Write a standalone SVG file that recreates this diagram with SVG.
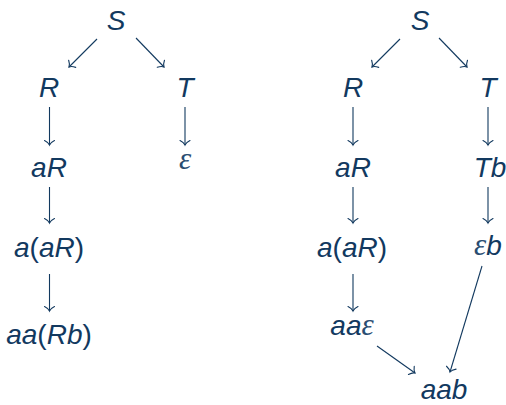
<svg xmlns="http://www.w3.org/2000/svg" width="506" height="405" viewBox="0 0 506 405">
<defs>
<marker id="to" viewBox="-6 -6 8 12" markerWidth="8" markerHeight="12" refX="0" refY="0" orient="auto" markerUnits="userSpaceOnUse">
<path d="M-4.5,-5 C-3,-2 -1.2,-0.5 0,0 C-1.2,0.5 -3,2 -4.5,5" fill="none" stroke="#12395f" stroke-width="1.1" stroke-linecap="round"/>
</marker>
<style>
.t{font-family:"Liberation Sans","Open Sans",sans-serif;font-style:italic;font-size:28px;fill:#12395f;text-anchor:middle}
.e{font-family:"Liberation Serif",serif;font-style:italic;font-size:31px;fill:#2a4d72}
.p{font-style:normal;font-weight:300}
.c line{stroke:#12395f;stroke-width:1.1;fill:none;marker-end:url(#to)}
</style>
</defs>
<rect width="506" height="405" fill="#ffffff"/>
<g class="c" id="connectors">
<line x1="97" y1="39" x2="69" y2="67"/>
<line x1="136" y1="38" x2="164" y2="67"/>
<line x1="49.5" y1="107" x2="49.5" y2="145"/>
<line x1="185" y1="107" x2="185" y2="145"/>
<line x1="49.5" y1="187" x2="49.5" y2="223"/>
<line x1="49.5" y1="274" x2="49.5" y2="311"/>
<line x1="400" y1="39" x2="372" y2="67"/>
<line x1="439" y1="38" x2="467" y2="67"/>
<line x1="353" y1="107" x2="353" y2="145"/>
<line x1="488" y1="107" x2="488" y2="145"/>
<line x1="353" y1="187" x2="353" y2="223"/>
<line x1="488" y1="187" x2="488" y2="223"/>
<line x1="353" y1="274" x2="353" y2="311"/>
<line x1="377" y1="346" x2="415" y2="373"/>
<line x1="482" y1="266" x2="450" y2="372"/>
</g>
<g id="l-S"><text class="t" x="116" y="30">S</text></g>
<g id="l-R"><text class="t" x="49" y="97">R</text></g>
<g id="l-T"><text class="t" x="185" y="97">T</text></g>
<g id="l-aR"><text class="t" x="49" y="177">aR</text></g>
<g id="l-eps"><text class="t e" x="185" y="169">ε</text></g>
<g id="l-aaR"><text class="t" x="49" y="257">a<tspan class="p">(</tspan>aR<tspan class="p">)</tspan></text></g>
<g id="l-aaRb"><text class="t" x="49" y="344">aa<tspan class="p">(</tspan>Rb<tspan class="p">)</tspan></text></g>
<g id="r-S"><text class="t" x="420" y="30">S</text></g>
<g id="r-R"><text class="t" x="353" y="97">R</text></g>
<g id="r-T"><text class="t" x="488" y="97">T</text></g>
<g id="r-aR"><text class="t" x="353" y="177">aR</text></g>
<g id="r-Tb"><text class="t" x="490" y="177">Tb</text></g>
<g id="r-aaR"><text class="t" x="352" y="257">a<tspan class="p">(</tspan>aR<tspan class="p">)</tspan></text></g>
<g id="r-epsb"><text class="t" x="488" y="255"><tspan class="e">ε</tspan>b</text></g>
<g id="r-aaeps"><text class="t" x="352" y="335">aa<tspan class="e">ε</tspan></text></g>
<g id="r-aab"><text class="t" x="444" y="399">aab</text></g>
</svg>
